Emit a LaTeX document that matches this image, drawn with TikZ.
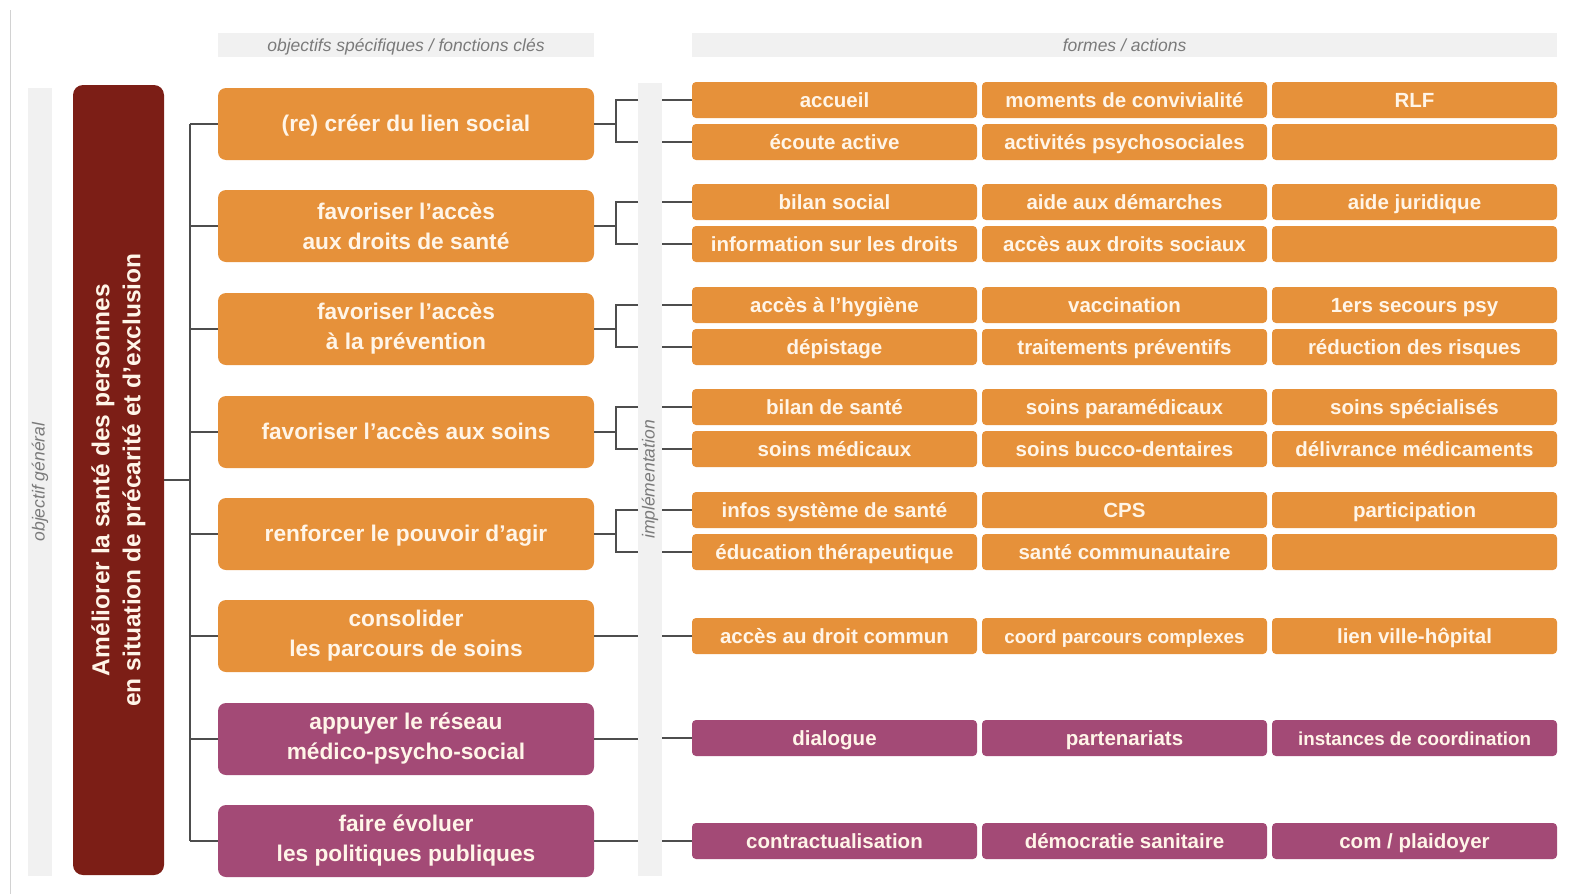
\documentclass[tikz,border=0pt]{standalone}
\usepackage{fontspec}
\setmainfont{Liberation Sans}
\usetikzlibrary{positioning}
\definecolor{orangebox}{HTML}{E6913A}
\definecolor{plumbox}{HTML}{A34A76}
\definecolor{goalred}{HTML}{7C1E16}
\definecolor{bandgray}{HTML}{F1F1F1}
\definecolor{bandtext}{HTML}{7A7A7A}
\definecolor{linegray}{HTML}{4D4D4D}
\definecolor{boxtext}{HTML}{FFF5E8}

\begin{document}
\begin{tikzpicture}[x=1pt,y=-1pt,
    obj/.style={rounded corners=8pt,minimum width=376pt,minimum height=72pt,inner sep=0pt,text=boxtext,align=center,font=\fontsize{22.7}{30}\selectfont\bfseries},
    oneline/.style={text height=17pt,text depth=2pt},
    act/.style={rounded corners=4pt,minimum width=285pt,minimum height=36pt,inner sep=0pt,text=boxtext,text height=16.5pt,text depth=2.5pt,font=\fontsize{20.5}{24}\selectfont\bfseries},
    small/.style={font=\fontsize{18.8}{22}\selectfont\bfseries},
    band/.style={fill=bandgray,inner sep=0pt,text=bandtext,font=\fontsize{17.5}{20}\selectfont\itshape},
    bandh/.style={band,text height=14pt,text depth=1.5pt},
    link/.style={draw=linegray,line width=1.2pt}]
  \useasboundingbox (0,0) rectangle (1570,894);
  \draw[gray!35,line width=1pt] (10,10) -- (10,894);

  % bandeaux gris
  \node[bandh,minimum width=376pt,minimum height=24pt] (hdobj) at (406,45) {objectifs spécifiques / fonctions clés};
  \node[bandh,minimum width=865pt,minimum height=24pt] (hdact) at (1124.5,45) {formes / actions};
  \node[band,rotate=90,minimum width=788pt,minimum height=24pt] (gen) at (40,482) {objectif général};
  \node[band,rotate=90,minimum width=793pt,minimum height=24pt] (impl) at (650,479.5) {implémentation};

  % objectif general
  \node[fill=goalred,rounded corners=10pt,rotate=90,minimum width=790pt,minimum height=91pt,inner sep=0pt,text=boxtext,align=center,font=\fontsize{24.5}{31}\selectfont\bfseries] (goal) at (118.5,480)
    {Améliorer la santé des personnes\\en situation de précarité et d’exclusion};

  % objectifs specifiques
  \node[obj,oneline,fill=orangebox] (o1) at (406,124) {(re) créer du lien social};
  \node[obj,fill=orangebox] (o2) at (406,226) {favoriser l’accès\\aux droits de santé};
  \node[obj,fill=orangebox] (o3) at (406,329) {favoriser l'accès\\à la prévention};
  \node[obj,oneline,fill=orangebox] (o4) at (406,432) {favoriser l’accès aux soins};
  \node[obj,oneline,fill=orangebox] (o5) at (406,534) {renforcer le pouvoir d’agir};
  \node[obj,fill=orangebox] (o6) at (406,636) {consolider\\les parcours de soins};
  \node[obj,fill=plumbox] (o7) at (406,739) {appuyer le réseau\\médico-psycho-social};
  \node[obj,fill=plumbox] (o8) at (406,841) {faire évoluer\\les politiques publiques};

  % formes / actions
  \node[act,fill=orangebox] (f11a) at (834.5,100) {accueil};
  \node[act,fill=orangebox] (f11b) at (1124.5,100) {moments de convivialité};
  \node[act,fill=orangebox] (f11c) at (1414.5,100) {RLF};
  \node[act,fill=orangebox] (f12a) at (834.5,142) {écoute active};
  \node[act,fill=orangebox] (f12b) at (1124.5,142) {activités psychosociales};
  \node[act,fill=orangebox] (f12c) at (1414.5,142) {};

  \node[act,fill=orangebox] (f21a) at (834.5,202) {bilan social};
  \node[act,fill=orangebox] (f21b) at (1124.5,202) {aide aux démarches};
  \node[act,fill=orangebox] (f21c) at (1414.5,202) {aide juridique};
  \node[act,fill=orangebox] (f22a) at (834.5,244) {information sur les droits};
  \node[act,fill=orangebox] (f22b) at (1124.5,244) {accès aux droits sociaux};
  \node[act,fill=orangebox] (f22c) at (1414.5,244) {};

  \node[act,fill=orangebox] (f31a) at (834.5,305) {accès à l’hygiène};
  \node[act,fill=orangebox] (f31b) at (1124.5,305) {vaccination};
  \node[act,fill=orangebox] (f31c) at (1414.5,305) {1ers secours psy};
  \node[act,fill=orangebox] (f32a) at (834.5,347) {dépistage};
  \node[act,fill=orangebox] (f32b) at (1124.5,347) {traitements préventifs};
  \node[act,fill=orangebox] (f32c) at (1414.5,347) {réduction des risques};

  \node[act,fill=orangebox] (f41a) at (834.5,407) {bilan de santé};
  \node[act,fill=orangebox] (f41b) at (1124.5,407) {soins paramédicaux};
  \node[act,fill=orangebox] (f41c) at (1414.5,407) {soins spécialisés};
  \node[act,fill=orangebox] (f42a) at (834.5,449) {soins médicaux};
  \node[act,fill=orangebox] (f42b) at (1124.5,449) {soins bucco-dentaires};
  \node[act,fill=orangebox] (f42c) at (1414.5,449) {délivrance médicaments};

  \node[act,fill=orangebox] (f51a) at (834.5,510) {infos système de santé};
  \node[act,fill=orangebox] (f51b) at (1124.5,510) {CPS};
  \node[act,fill=orangebox] (f51c) at (1414.5,510) {participation};
  \node[act,fill=orangebox] (f52a) at (834.5,552) {éducation thérapeutique};
  \node[act,fill=orangebox] (f52b) at (1124.5,552) {santé communautaire};
  \node[act,fill=orangebox] (f52c) at (1414.5,552) {};

  \node[act,fill=orangebox] (f61a) at (834.5,636) {accès au droit commun};
  \node[act,fill=orangebox,small] (f61b) at (1124.5,636) {coord parcours complexes};
  \node[act,fill=orangebox] (f61c) at (1414.5,636) {lien ville-hôpital};

  \node[act,fill=plumbox] (f71a) at (834.5,738) {dialogue};
  \node[act,fill=plumbox] (f71b) at (1124.5,738) {partenariats};
  \node[act,fill=plumbox,small] (f71c) at (1414.5,738) {instances de coordination};

  \node[act,fill=plumbox] (f81a) at (834.5,841) {contractualisation};
  \node[act,fill=plumbox] (f81b) at (1124.5,841) {démocratie sanitaire};
  \node[act,fill=plumbox] (f81c) at (1414.5,841) {com / plaidoyer};

  % arbre
  \coordinate (trunk) at (190,480);
  \coordinate (brk) at (616,0);
  \coordinate (implL) at (638,0);
  \coordinate (implR) at (662,0);
  \draw[link] (goal) -- (trunk);
  \draw[link] (o1.west -| trunk) -- (o8.west -| trunk);
  \foreach \i in {1,...,8}
    \draw[link] (o\i.west -| trunk) -- (o\i.west);

  % accolades vers les actions
  \foreach \g in {1,...,5} {
    \draw[link] (o\g.east) -- (o\g.east -| brk);
    \draw[link] (f\g1a.west -| implL) -- (f\g1a.west -| brk) |- (f\g2a.west -| implL);
    \draw[link] (f\g1a.west -| implR) -- (f\g1a.west);
    \draw[link] (f\g2a.west -| implR) -- (f\g2a.west);
  }
  \foreach \g in {6,7,8} {
    \draw[link] (o\g.east) -- (o\g.east -| implL);
    \draw[link] (f\g1a.west -| implR) -- (f\g1a.west);
  }
\end{tikzpicture}
\end{document}
